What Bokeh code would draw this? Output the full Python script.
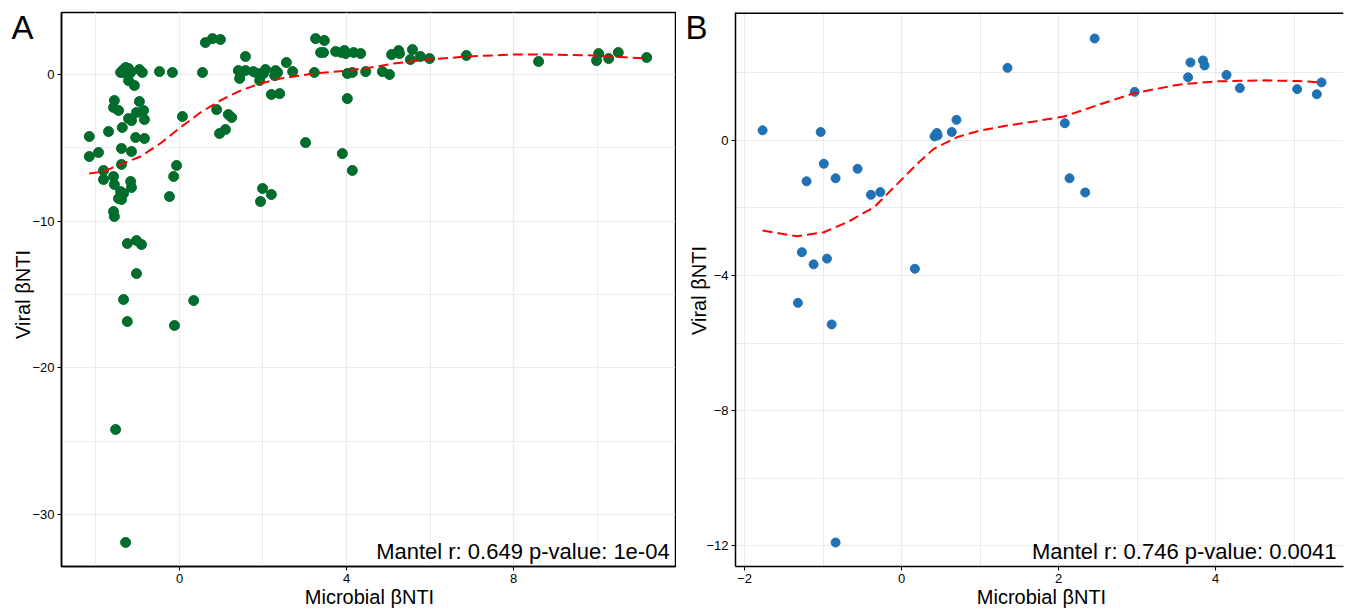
import math
from bokeh.plotting import figure
from bokeh.layouts import row
from bokeh.models import FixedTicker, Label, Span, Range1d
from bokeh.embed import file_html
from bokeh.resources import INLINE

# ---------------- data ----------------
A_x = [-1.41, -1.37, -1.34, -1.29, -1.25, -1.22, -1.17, -0.96, -0.89, -0.48, -0.17, 0.55,
       -1.22, -1.08, -1.56, -1.58, -1.46, -0.96, -0.86, -1.03, -1.22, -1.15, -0.84, 0.07,
       -1.37, -1.70, -2.16, -1.05, -0.84, -1.39, -1.15, -1.94, -2.16, -1.39, -1.82, -0.07,
       -0.14, -1.82, -1.58, -1.56, -1.17, -1.15, -1.41, -1.34, -1.46, -1.39, -0.24, -1.58,
       -1.56, -1.25, -1.03, -0.91, -1.03, -1.34, 0.34, -1.25, -0.12, -1.53, -1.29,
       0.62, 0.79, 0.98, 0.89, 1.17, 1.25, 0.96, 1.10, 1.58,
       1.41, 1.46, 1.44, 1.58, 1.77, 1.87, 1.94, 1.92, 2.01, 2.06, 2.30, 2.28, 2.35,
       2.56, 2.71, 2.20, 2.40, 3.23, 3.26, 3.47, 3.38, 3.45, 3.74, 3.88, 3.95, 3.98, 4.17, 4.34,
       4.02, 4.14, 4.46, 4.02, 3.02, 3.90, 4.14, 1.94, 1.99, 2.20,
       4.86, 5.03, 5.08, 5.25, 5.27, 5.58, 5.53, 5.77, 5.99, 6.87, 8.60, 10.04, 9.99, 10.28,
       10.51, 11.19]
A_y = [0.14, 0.27, 0.14, 0.48, 0.07, 0.41, 0.14, 0.34, 0.14, 0.20, 0.14, 0.14,
       -0.41, -0.75, -1.77, -2.25, -2.45, -1.84, -2.45, -2.59, -3.00, -3.14, -3.07, -2.86,
       -3.61, -3.89, -4.23, -4.29, -4.36, -5.04, -5.25, -5.32, -5.59, -6.13, -6.54, -6.20,
       -6.95, -7.16, -6.95, -7.50, -7.29, -7.70, -7.98, -8.11, -8.45, -8.52, -8.32, -9.34,
       -9.68, -11.52, -11.32, -11.59, -13.57, -15.34, -15.41, -16.84, -17.11, -24.20, -31.90,
       2.18, 2.45, 2.39, -2.39, -2.73, -2.93, -4.02, -3.75, 1.23,
       0.27, 0.07, -0.27, 0.27, 0.20, 0.07, -0.07, -0.41, 0.07, 0.34, 0.27, -0.07, 0.14,
       0.82, 0.20, -1.36, -1.30, 0.14, 2.45, 2.32, 1.50, 1.50, 1.57, 1.50, 1.64, 1.43, 1.50, 1.43,
       0.07, 0.14, 0.20, -1.64, -4.64, -5.39, -6.54, -8.66, -7.77, -8.18,
       0.20, 0.00, 1.36, 1.64, 1.43, 1.70, 1.02, 1.23, 1.09, 1.30, 0.89, 1.43, 0.95, 1.09,
       1.50, 1.16]

loessA_x = [-2.16, -1.82, -1.37, -0.93, -0.46, 0.02, 0.50, 0.98, 1.46, 1.94, 2.42, 3.21,
            4.02, 4.57, 5.13, 5.94, 6.90, 8.0, 8.81, 9.92, 11.21]
loessA_y = [-6.75, -6.61, -6.07, -5.59, -4.70, -3.61, -2.59, -1.77, -1.09, -0.61, -0.27, 0.07,
            0.27, 0.48, 0.75, 1.02, 1.23, 1.36, 1.36, 1.30, 1.09]

B_x = [-1.77, -1.03, -0.99, -1.21, -0.84, -0.56, -0.39, -0.27, -1.27, -1.12, -0.95, 0.17,
       -1.32, -0.89, 0.42, 0.44, 0.46, 0.45, 0.64, 0.70, 1.35, -0.84, 2.46, 2.08, 2.14, 2.34,
       2.97, 3.65, 3.68, 3.84, 3.86, 4.14, 4.31, 5.04, 5.29, 5.35]
B_y = [0.30, 0.25, -0.69, -1.21, -1.12, -0.84, -1.61, -1.53, -3.31, -3.67, -3.50, -3.80,
       -4.81, -5.45, 0.12, 0.18, 0.15, 0.22, 0.25, 0.61, 2.15, -11.91, 3.02, 0.51, -1.12, -1.54,
       1.44, 1.87, 2.31, 2.37, 2.22, 1.94, 1.55, 1.52, 1.37, 1.72]

loessB_x = [-1.77, -1.33, -0.99, -0.69, -0.35, -0.05, 0.20, 0.41, 0.71, 1.01, 1.35, 1.71,
            2.07, 2.49, 2.96, 3.55, 4.02, 4.62, 5.04, 5.34]
loessB_y = [-2.67, -2.84, -2.72, -2.42, -1.98, -1.28, -0.69, -0.25, 0.10, 0.30, 0.44, 0.57,
            0.71, 1.04, 1.40, 1.66, 1.75, 1.78, 1.76, 1.72]

A_xticks = [0, 4, 8]
A_xminor = [-2, 2, 6, 10]
A_yticks = [-30, -20, -10, 0]
A_yminor = [-25, -15, -5]
B_xticks = [-2, 0, 2, 4]
B_xminor = [-1, 1, 3, 5]
B_yticks = [-12, -8, -4, 0]
B_yminor = [-10, -6, -2, 2]

A_note = "Mantel r: 0.649 p-value: 1e-04"
B_note = "Mantel r: 0.746 p-value: 0.0041"
x_title = "Microbial βNTI"
y_title = "Viral βNTI"
panel_tags = ["A", "B"]

FONT = "Liberation Sans"
GRID = "#EBEBEB"
H = 610
W = 1345
TOP = 12
BOTTOM = 44


def style(p, xt, xm, yt, ym):
    p.xaxis.ticker = FixedTicker(ticks=xt, minor_ticks=xm)
    p.yaxis.ticker = FixedTicker(ticks=yt, minor_ticks=ym)
    p.xgrid.grid_line_color = GRID
    p.ygrid.grid_line_color = GRID
    p.xgrid.grid_line_width = 1.2
    p.ygrid.grid_line_width = 1.2
    p.xgrid.minor_grid_line_color = GRID
    p.ygrid.minor_grid_line_color = GRID
    p.xgrid.minor_grid_line_width = 1.0
    p.ygrid.minor_grid_line_width = 1.0
    for ax in (p.xaxis, p.yaxis):
        ax.minor_tick_line_color = None
        ax.major_tick_line_color = "black"
        ax.major_tick_out = 4
        ax.major_tick_in = 0
        ax.major_label_text_font = FONT
        ax.major_label_text_font_size = "13px"
        ax.major_label_text_color = "black"
        ax.axis_line_color = "black"
        ax.axis_line_width = 1.5
        ax.major_label_standoff = 3
    p.background_fill_color = "white"
    p.border_fill_color = "white"


# ---------------- panel A ----------------
pA = figure(width=676, height=H, output_backend="svg", toolbar_location=None,
            x_range=Range1d(-2.826, 11.88), y_range=Range1d(-33.54, 4.23),
            min_border_left=61, min_border_right=1, min_border_top=TOP, min_border_bottom=BOTTOM)
style(pA, A_xticks, A_xminor, A_yticks, A_yminor)
pA.outline_line_color = "black"
pA.outline_line_width = 1.5
pA.scatter(A_x, A_y, size=10, color="#006d2c", line_color="#006d2c")
pA.line(loessA_x, loessA_y, line_color="red", line_width=2, line_dash="10 5")
pA.add_layout(Label(x=11.74, y=-32.52, text=A_note, text_align="right",
                    text_baseline="alphabetic", text_font=FONT, text_font_size="22px",
                    text_color="black"))

# ---------------- panel B ----------------
pB = figure(width=W - 676, height=H, output_backend="svg", toolbar_location=None,
            x_range=Range1d(-2.115, 5.63), y_range=Range1d(-12.62, 3.79),
            min_border_left=59, min_border_right=2, min_border_top=TOP, min_border_bottom=BOTTOM)
style(pB, B_xticks, B_xminor, B_yticks, B_yminor)
pB.outline_line_color = None
pB.add_layout(Span(location=3.79, dimension="width", line_color="black", line_width=3))
pB.scatter(B_x, B_y, size=9, color="#2171b5", line_color="#2171b5")
pB.line(loessB_x, loessB_y, line_color="red", line_width=2, line_dash="10 5")
pB.add_layout(Label(x=5.54, y=-12.18, text=B_note, text_align="right",
                    text_baseline="alphabetic", text_font=FONT, text_font_size="22px",
                    text_color="black"))

# ---------------- overlay (page pixels) for texts around the panels ----------------
ov = figure(width=W, height=H, output_backend="svg", toolbar_location=None,
            x_range=Range1d(0, W), y_range=Range1d(H, 0),
            x_axis_type=None, y_axis_type=None,
            min_border_left=0, min_border_right=0, min_border_top=0, min_border_bottom=0,
            styles={"position": "absolute", "left": "0px", "top": "0px"})
ov.outline_line_color = None
ov.background_fill_color = None
ov.border_fill_color = None
ov.grid.visible = False


def ov_text(x, y, text, size, align="left", baseline="alphabetic", angle=0.0):
    ov.add_layout(Label(x=x, y=y, text=text, text_align=align, text_baseline=baseline,
                        angle=angle, text_font=FONT, text_font_size=size,
                        text_color="black"))


ov_text(11, 27, panel_tags[0], "33px")
ov_text(685, 27, panel_tags[1], "33px")
ov_text(369, 596, x_title, "20px", align="center")
ov_text(1041, 596, x_title, "20px", align="center")
ov_text(22, 294, y_title, "20px", align="center", angle=math.pi / 2)
ov_text(698, 290, y_title, "20px", align="center", angle=math.pi / 2)

layout = row(pA, pB)
open("out.html", "w").write(file_html([layout, ov], INLINE))
